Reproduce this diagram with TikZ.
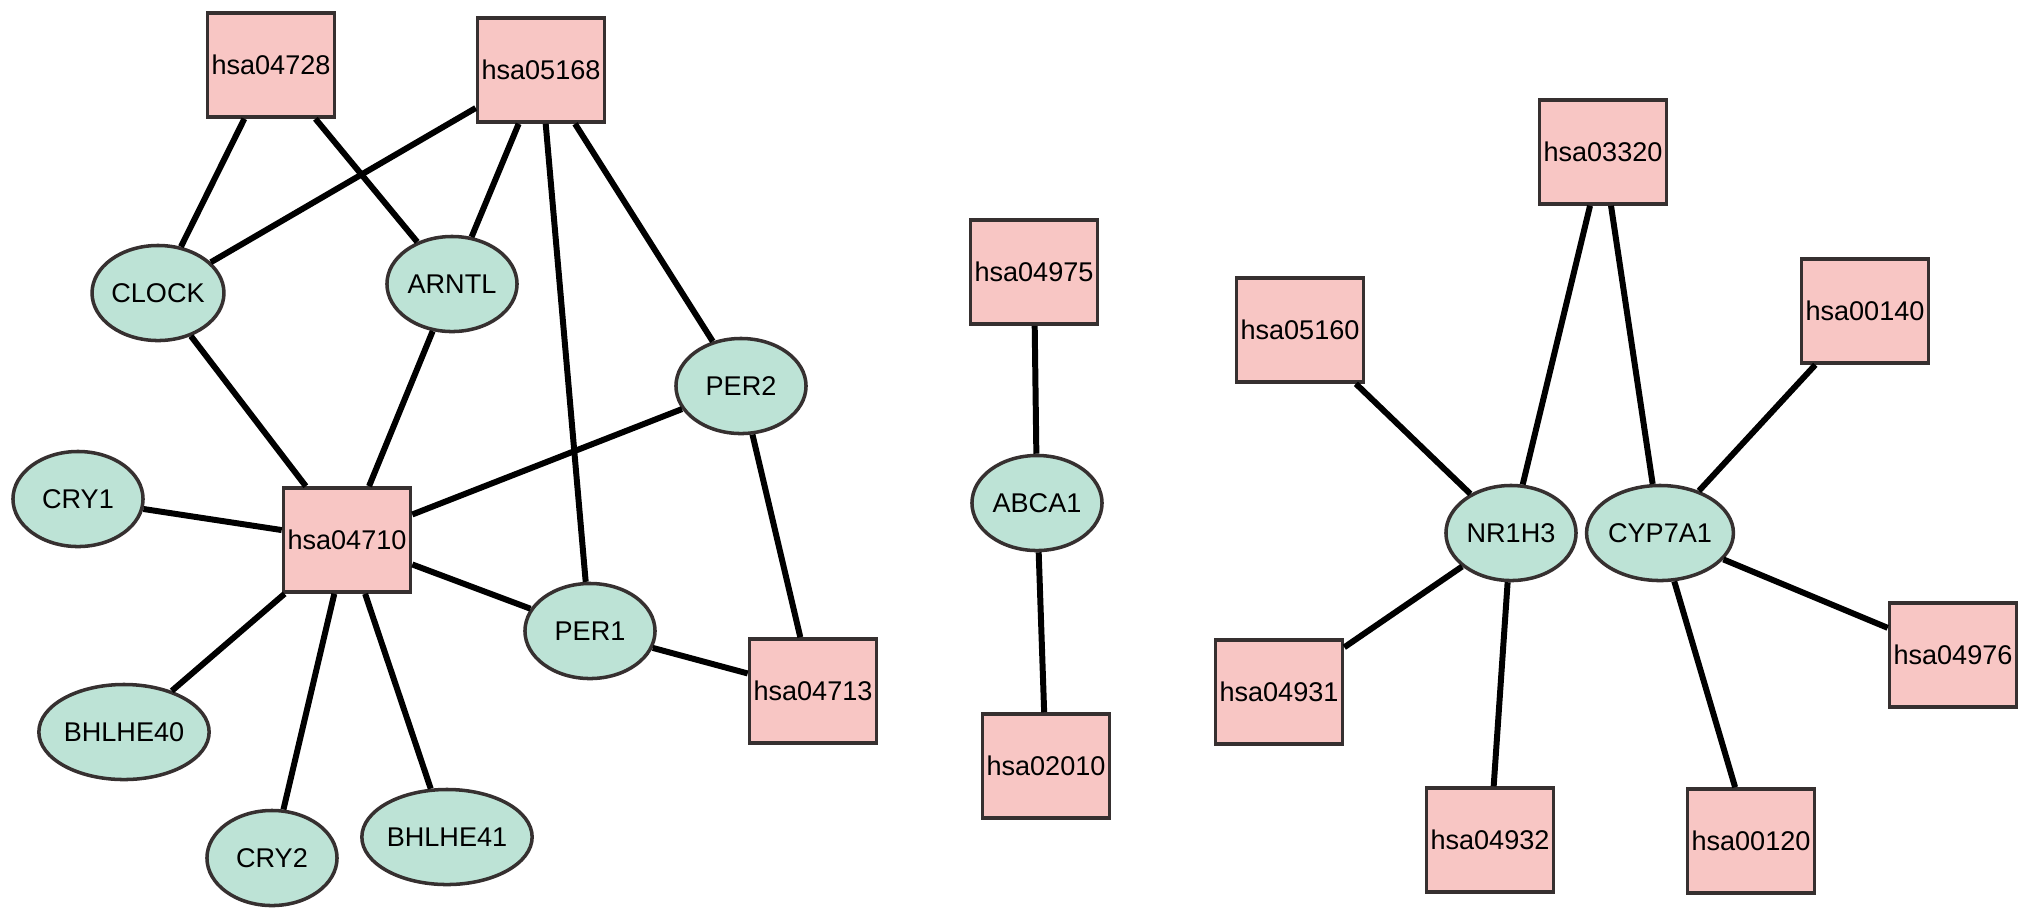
\documentclass[tikz,border=0pt]{standalone}
\usepackage{fontspec}
\setmainfont{Liberation Sans}
\usetikzlibrary{shapes.geometric}
\definecolor{keggfill}{HTML}{F8C6C4}
\definecolor{genefill}{HTML}{BDE3D6}
\definecolor{rim}{HTML}{363030}
\tikzset{
  kegg/.style={rectangle,draw=rim,fill=keggfill,line width=1pt,minimum width=1.27cm,minimum height=1.04cm,inner sep=0pt,font=\fontsize{7.7}{9}\selectfont},
  gene/.style={ellipse,draw=rim,fill=genefill,line width=1pt,minimum width=1.3cm,minimum height=0.95cm,inner sep=0pt,font=\fontsize{7.7}{9}\selectfont},
  link/.style={line width=1.7pt,black}
}

\begin{document}
\begin{tikzpicture}[x=0.01cm,y=-0.01cm]
\useasboundingbox (0,0) rectangle (2032,923);
% left cluster
\node[kegg] (k4728) at (271,65) {hsa04728};
\node[kegg] (k5168) at (541,70) {hsa05168};
\node[gene] (clock) at (158,293) {CLOCK};
\node[gene] (arntl) at (452,284) {ARNTL};
\node[gene] (per2) at (741,386) {PER2};
\node[gene] (cry1) at (78,499) {CRY1};
\node[kegg] (k4710) at (347,540) {hsa04710};
\node[gene] (per1) at (590,631) {PER1};
\node[kegg] (k4713) at (813,691) {hsa04713};
\node[gene] (bh40) at (124,732) {BHLHE40};
\node[gene] (cry2) at (272,858) {CRY2};
\node[gene] (bh41) at (447,837) {BHLHE41};
% middle
\node[kegg] (k4975) at (1034,272) {hsa04975};
\node[gene] (abca1) at (1037,503) {ABCA1};
\node[kegg] (k2010) at (1046,766) {hsa02010};
% right cluster
\node[kegg] (k3320) at (1603,152) {hsa03320};
\node[kegg] (k5160) at (1300,330) {hsa05160};
\node[kegg] (k0140) at (1865,311) {hsa00140};
\node[gene] (nr1h3) at (1511,533) {NR1H3};
\node[gene] (cyp7a1) at (1660,533) {CYP7A1};
\node[kegg] (k4931) at (1279,692) {hsa04931};
\node[kegg] (k4976) at (1953,655) {hsa04976};
\node[kegg] (k4932) at (1490,840) {hsa04932};
\node[kegg] (k0120) at (1751,841) {hsa00120};

\draw[link] (k4728)--(clock) (k4728)--(arntl);
\draw[link] (k5168)--(clock) (k5168)--(arntl) (k5168)--(per1) (k5168)--(per2);
\foreach \g in {clock,arntl,per2,cry1,per1,bh40,cry2,bh41}
  \draw[link] (k4710)--(\g);
\draw[link] (per2)--(k4713) (per1)--(k4713);
\draw[link] (k4975)--(abca1)--(k2010);
\foreach \k in {k3320,k5160,k4931,k4932}
  \draw[link] (nr1h3)--(\k);
\foreach \k in {k3320,k0140,k4976,k0120}
  \draw[link] (cyp7a1)--(\k);
\end{tikzpicture}
\end{document}
